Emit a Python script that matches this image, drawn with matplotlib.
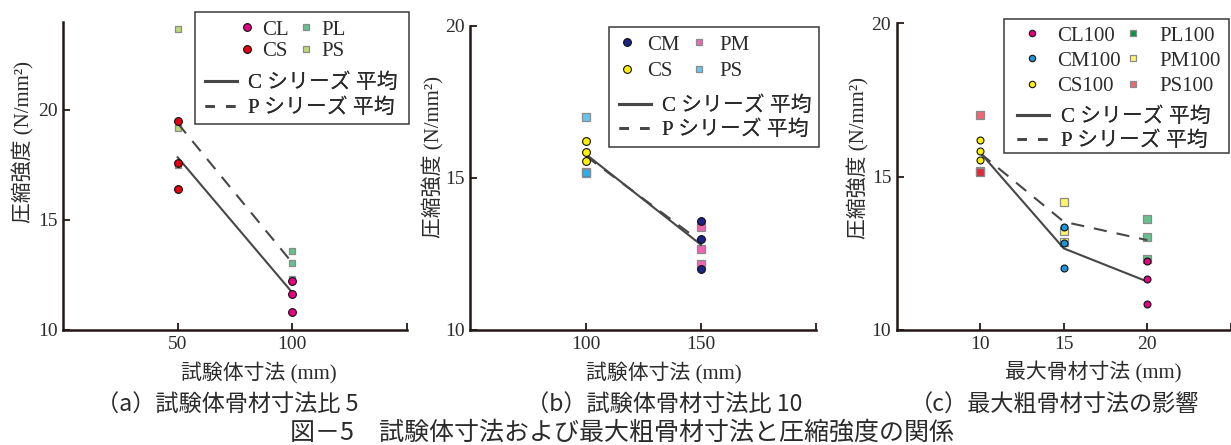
import numpy as np
import matplotlib
matplotlib.use("Agg")
import matplotlib.pyplot as plt
from matplotlib.lines import Line2D
from matplotlib.patches import Rectangle
from matplotlib.colors import to_rgba

# ---------------- data ----------------
# (a) specimen/aggregate size ratio 5
a_xticks = [50, 100]
a_CS = [19.5, 17.6, 16.4]          # at 50
a_PS = [23.7, 19.2, 17.5]          # at 50
a_CL = [12.25, 11.65, 10.8]        # at 100
a_PL = [13.6, 13.05, 12.3]         # at 100
a_C_avg = [17.85, 11.7]
a_P_avg = [19.4, 13.05]

# (b) specimen/aggregate size ratio 10
b_xticks = [100, 150]
b_CS = [16.2, 15.85, 15.55]        # at 100
b_PS = [17.0, 15.2, 15.15]         # at 100
b_CM = [13.58, 12.98, 12.01]       # at 150
b_PM = [13.39, 12.66, 12.16]       # at 150
b_C_avg = [15.78, 12.8]
b_P_avg = [15.72, 12.9]

# (c) effect of maximum coarse aggregate size
c_xticks = [10, 15, 20]
c_CS100 = [16.2, 15.85, 15.55]     # at 10
c_PS100 = [17.0, 15.2, 15.15]      # at 10
c_CM100 = [13.35, 12.83, 12.03]    # at 15
c_PM100 = [14.17, 13.24, 12.86]    # at 15
c_CL100 = [12.25, 11.66, 10.84]    # at 20
c_PL100 = [13.62, 13.04, 12.3]     # at 20
c_C_avg = [15.78, 12.66, 11.58]
c_P_avg = [15.76, 13.53, 12.93]

y_ticks = [10, 15, 20]
ylabel = "圧縮強度 (N/mm²)"
xlabels = ["試験体寸法 (mm)", "試験体寸法 (mm)", "最大骨材寸法 (mm)"]
captions = ["（a）試験体骨材寸法比 5", "（b）試験体骨材寸法比 10", "（c）最大粗骨材寸法の影響"]
fig_caption = "図－5　試験体寸法および最大粗骨材寸法と圧縮強度の関係"
c_label = "C シリーズ 平均"
p_label = "P シリーズ 平均"

# ---------------- style ----------------
W, H = 1231, 445
SERIF_CJK = ["Liberation Serif", "Noto Sans CJK JP"]
GOTHIC = ["Noto Sans CJK JP", "DejaVu Sans"]
plt.rcParams["font.family"] = SERIF_CJK
TXT = "#2b2b2b"
AX = "#231815"
LINE = "#474747"
SQ_EDGE = "#8a8a8a"

magenta = "#E4007F"
red = "#E60012"
navy = "#1D2088"
yellow = "#FFF100"
blue_c = "#1E95D4"
green = "#009944"
ygreen = "#8FC31F"
cyan = "#00A0E9"

SQ_A = 0.6

fig = plt.figure(figsize=(W / 100, H / 100), dpi=100)


def fx(x):
    return x / W


def fy(y):
    return 1 - y / H


def make_axes(left, right, top, bottom):
    return fig.add_axes([fx(left), fy(bottom), (right - left) / W, (bottom - top) / H])


def style_axes(ax, xlim, ylim, xticks, xticklabels):
    ax.set_xlim(*xlim)
    ax.set_ylim(*ylim)
    for s in ["top", "right"]:
        ax.spines[s].set_visible(False)
    for s in ["left", "bottom"]:
        ax.spines[s].set_linewidth(1.8)
        ax.spines[s].set_color(AX)
    ax.set_xticks(xticks)
    ax.set_xticklabels(xticklabels)
    ax.set_yticks(y_ticks)
    ax.set_yticklabels([str(v) for v in y_ticks])
    ax.tick_params(axis="both", direction="in", length=5, width=1.3, color=AX,
                   labelsize=14, labelcolor=TXT)
    ax.tick_params(axis="x", pad=4)
    ax.tick_params(axis="y", pad=4)
    ax.patch.set_alpha(0)


def sq(ax, x, vals, color, ms=5.0):
    ax.plot(np.full(len(vals), x), vals, ls="none", marker="s", ms=ms,
            mfc=to_rgba(color, SQ_A), mec=SQ_EDGE, mew=0.9, zorder=3)


def circ(ax, x, vals, color, ms=5.6):
    ax.plot(np.full(len(vals), x), vals, ls="none", marker="o", ms=ms, mfc=color,
            mec="#111111", mew=0.8, zorder=5)


def avg_lines(ax, xs, c_avg, p_avg):
    ax.plot(xs, c_avg, color=LINE, lw=1.5, zorder=4)
    ax.plot(xs, p_avg, color=LINE, lw=1.5, dashes=(6.3, 4.8), zorder=4)


def h_circ(color, ms=5.6):
    return Line2D([], [], ls="none", marker="o", ms=ms, mfc=color, mec="#111111", mew=0.8)


def h_sq(color, ms=5.0, alpha=SQ_A):
    return Line2D([], [], ls="none", marker="s", ms=ms, mfc=to_rgba(color, alpha),
                  mec=SQ_EDGE, mew=0.9)


def legends(ax, handles, labels, mk_anchor, ln_anchor, frame, hpad, colsp, lspace, lnspace):
    leg1 = ax.legend(handles, labels, ncol=2, loc="center left",
                     bbox_to_anchor=(fx(mk_anchor[0]), fy(mk_anchor[1])),
                     bbox_transform=fig.transFigure, frameon=False, borderpad=0,
                     borderaxespad=0, handlelength=0.8, handletextpad=hpad,
                     columnspacing=colsp, labelspacing=lspace, fontsize=15,
                     labelcolor=TXT)
    ax.add_artist(leg1)
    lh = [Line2D([], [], color=LINE, lw=2.2),
          Line2D([], [], color=LINE, lw=2.0, dashes=(3.4, 4.0))]
    leg2 = ax.legend(lh, [c_label, p_label], loc="center left",
                     bbox_to_anchor=(fx(ln_anchor[0]), fy(ln_anchor[1])),
                     bbox_transform=fig.transFigure, frameon=False, borderpad=0,
                     borderaxespad=0, handlelength=1.52, handletextpad=0.56,
                     labelspacing=lnspace, fontsize=15, labelcolor=TXT)
    ax.add_artist(leg2)
    x0, x1, y0, y1 = frame
    fig.add_artist(Rectangle((fx(x0), fy(y1)), (x1 - x0) / W, (y1 - y0) / H,
                             transform=fig.transFigure, fill=False, lw=1.1,
                             edgecolor="#3a3a3a", zorder=10))


# ---------------- (a) ----------------
axa = make_axes(63, 407, 22, 330)
style_axes(axa, (0, 150), (10, 24), [50, 100, 150], ["50", "100", ""])
sq(axa, a_xticks[0], a_PS, ygreen)
sq(axa, a_xticks[1], a_PL, green)
avg_lines(axa, a_xticks, a_C_avg, a_P_avg)
circ(axa, a_xticks[0], a_CS, red)
circ(axa, a_xticks[1], a_CL, magenta)
legends(axa, [h_circ(magenta), h_circ(red), h_sq(green), h_sq(ygreen)],
        ["CL", "CS", "PL", "PS"], (239, 40.5), (205, 95.5), (195, 408.7, 11.7, 124.3),
        0.32, 0.43, 0.08, 0.26)

# ---------------- (b) ----------------
axb = make_axes(470.4, 816.3, 25.7, 330)
style_axes(axb, (50, 200), (10, 20), [100, 150, 200], ["100", "150", ""])
sq(axb, b_xticks[0], b_PS, cyan, ms=5.2)
sq(axb, b_xticks[1], b_PM, magenta, ms=5.2)
avg_lines(axb, b_xticks, b_C_avg, b_P_avg)
circ(axb, b_xticks[0], b_CS, yellow)
circ(axb, b_xticks[1], b_CM, navy)
legends(axb, [h_circ(navy), h_circ(yellow), h_sq(magenta), h_sq(cyan)],
        ["CM", "CS", "PM", "PS"], (619, 58), (619, 118.2), (609.3, 819.3, 26.7, 146.7),
        0.56, 0.53, 0.32, 0.2)

# ---------------- (c) ----------------
axc = make_axes(896.8, 1230.8, 23.3, 330)
style_axes(axc, (5, 25), (10, 20), [10, 15, 20, 25], ["10", "15", "20", ""])
sq(axc, c_xticks[0], c_PS100, red, ms=5.2)
sq(axc, c_xticks[1], c_PM100, yellow, ms=5.2)
sq(axc, c_xticks[2], c_PL100, green, ms=5.2)
avg_lines(axc, c_xticks, c_C_avg, c_P_avg)
circ(axc, c_xticks[0], c_CS100, yellow, ms=5.0)
circ(axc, c_xticks[1], c_CM100, blue_c, ms=5.0)
circ(axc, c_xticks[2], c_CL100, magenta, ms=5.0)
legends(axc, [h_circ(magenta, 4.6), h_circ(blue_c, 4.6), h_circ(yellow, 4.6),
              h_sq(green, 4.6, 1.0), h_sq(yellow, 4.6), h_sq(red, 4.6)],
        ["CL100", "CM100", "CS100", "PL100", "PM100", "PS100"],
        (1023.4, 61), (1017.3, 129.5), (1004, 1228.7, 19, 153.3),
        0.83, 0.19, 0.27, 0.22)

# ---------------- labels ----------------
for ax, lbl, xc, yl_x, yl_y in [
    (axa, xlabels[0], 259, 23, 141.7),
    (axb, xlabels[1], 664, 433, 157),
    (axc, xlabels[2], 1093, 858.3, 158.3),
]:
    fig.text(fx(xc), fy(372), lbl, ha="center", va="center", fontsize=15, color=TXT)
    fig.text(fx(yl_x), fy(yl_y), ylabel, ha="center", va="center", rotation=90,
             fontsize=15, color=TXT)

for cap, xc in zip(captions, [227, 664, 1055]):
    fig.text(fx(xc), fy(405), cap, ha="center", va="center", fontsize=16.7,
             family=GOTHIC, color=TXT)
fig.text(fx(621.7), fy(433), fig_caption, ha="center", va="center", fontsize=18,
         family=GOTHIC, color=TXT)

fig.savefig("out.png", dpi=100)
